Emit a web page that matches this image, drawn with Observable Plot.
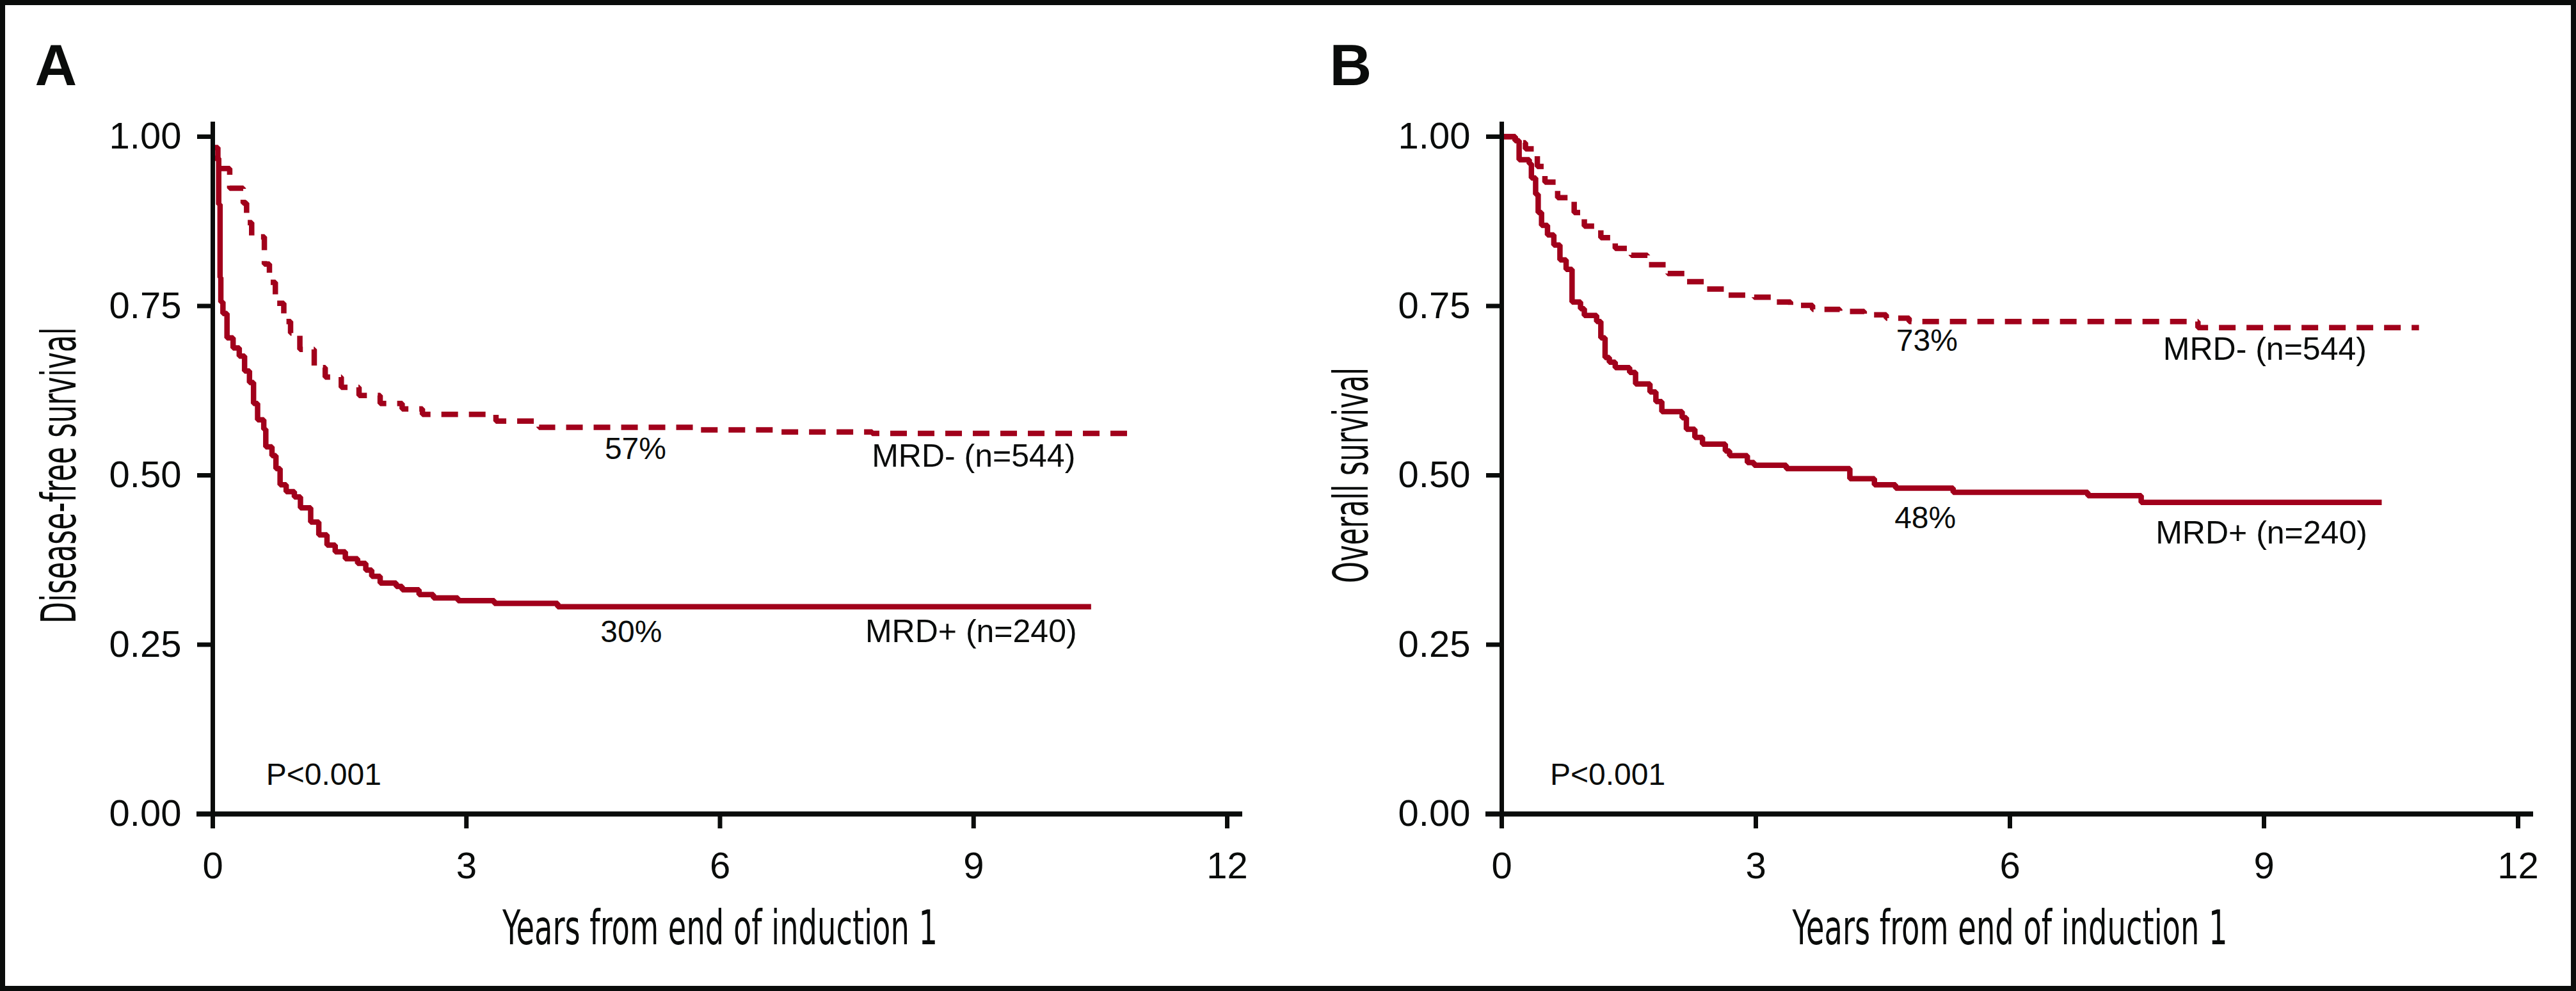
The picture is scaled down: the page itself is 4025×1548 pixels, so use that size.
<!DOCTYPE html>
<html>
<head>
<meta charset="utf-8">
<script src="https://cdn.jsdelivr.net/npm/d3@7"></script>
<script src="https://cdn.jsdelivr.net/npm/@observablehq/plot@0.6"></script>
<style>
  html, body { margin: 0; padding: 0; background: #fff; }
  #wrap { position: relative; width: 4025px; height: 1548px; overflow: hidden; background: #fff; }
  #wrap svg { position: absolute; top: 0; }
  #frame { position: absolute; left: 0; top: 0; width: 4025px; height: 1548px; box-sizing: border-box;
           border: 8px solid #0a0c0b; pointer-events: none; }
</style>
</head>
<body>
<div id="wrap"><div id="frame"></div></div>
<script>
// ---------------- data ----------------
const xTicks = [0, 3, 6, 9, 12];
const yTicks = [0, 0.25, 0.5, 0.75, 1];
const xTitle = "Years from end of induction 1";
const panelLetters = ["A", "B"];
const yTitles = ["Disease-free survival", "Overall survival"];
const groups = ["MRD- (n=544)", "MRD+ (n=240)"];

// Panel A: disease-free survival, MRD- (dashed)
const dfsNegTime = [0, 0.06, 0.20, 0.36, 0.40, 0.46, 0.61, 0.67, 0.74, 0.84, 0.87, 0.92, 1.03, 1.20, 1.33, 1.52, 1.73, 1.98, 2.24, 2.48, 3.35, 3.86, 5.77, 6.64, 7.80, 10.83];
const dfsNegSurv = [0.984, 0.953, 0.924, 0.902, 0.873, 0.852, 0.812, 0.785, 0.754, 0.733, 0.727, 0.710, 0.686, 0.659, 0.645, 0.630, 0.618, 0.606, 0.598, 0.590, 0.580, 0.571, 0.567, 0.564, 0.562, 0.562];
// Panel A: disease-free survival, MRD+ (solid)
const dfsPosTime = [0, 0.07, 0.086, 0.095, 0.12, 0.168, 0.24, 0.313, 0.376, 0.434, 0.482, 0.53, 0.603, 0.627, 0.70, 0.747, 0.796, 0.868, 0.965, 1.037, 1.158, 1.254, 1.351, 1.448, 1.568, 1.713, 1.81, 1.88, 1.98, 2.17, 2.24, 2.44, 2.61, 2.90, 3.33, 4.08, 10.39];
const dfsPosSurv = [0.968, 0.900, 0.792, 0.756, 0.739, 0.703, 0.688, 0.676, 0.654, 0.637, 0.606, 0.582, 0.568, 0.542, 0.529, 0.510, 0.486, 0.476, 0.468, 0.452, 0.431, 0.412, 0.397, 0.387, 0.377, 0.370, 0.360, 0.351, 0.341, 0.336, 0.331, 0.324, 0.319, 0.315, 0.311, 0.306, 0.306];

// Panel B: overall survival, MRD- (dashed)
const osNegTime = [0, 0.16, 0.28, 0.42, 0.51, 0.66, 0.855, 0.975, 1.17, 1.34, 1.53, 1.72, 1.96, 2.18, 2.40, 2.64, 2.98, 3.22, 3.41, 3.67, 3.99, 4.28, 4.54, 4.81, 8.22, 10.83];
const osNegSurv = [1.0, 0.991, 0.982, 0.956, 0.933, 0.910, 0.888, 0.868, 0.851, 0.835, 0.825, 0.811, 0.798, 0.786, 0.775, 0.766, 0.763, 0.756, 0.751, 0.745, 0.742, 0.737, 0.732, 0.727, 0.718, 0.718];
// Panel B: overall survival, MRD+ (solid)
const osPosTime = [0, 0.157, 0.205, 0.325, 0.35, 0.40, 0.43, 0.47, 0.54, 0.615, 0.687, 0.76, 0.83, 0.93, 0.975, 1.12, 1.17, 1.22, 1.27, 1.34, 1.51, 1.58, 1.75, 1.82, 1.89, 2.13, 2.18, 2.28, 2.37, 2.64, 2.69, 2.90, 2.98, 3.36, 4.11, 4.40, 4.65, 5.33, 6.92, 7.55, 10.39];
const osPosSurv = [1.0, 0.994, 0.966, 0.960, 0.939, 0.915, 0.888, 0.869, 0.855, 0.840, 0.818, 0.804, 0.756, 0.746, 0.736, 0.727, 0.703, 0.674, 0.667, 0.659, 0.652, 0.635, 0.623, 0.609, 0.594, 0.585, 0.568, 0.556, 0.546, 0.536, 0.529, 0.519, 0.515, 0.510, 0.495, 0.486, 0.481, 0.475, 0.470, 0.460, 0.460];

// Annotations (text, time, survival)
const dfsPctText = ["57%", "30%"];
const dfsPctTime = [5.0, 4.95];
const dfsPctSurv = [0.539, 0.268];
const dfsGroupTime = [9.0, 8.97];
const dfsGroupSurv = [0.528, 0.269];
const osPctText = ["73%", "48%"];
const osPctTime = [5.02, 5.0];
const osPctSurv = [0.698, 0.437];
const osGroupTime = [9.01, 8.97];
const osGroupSurv = [0.686, 0.414];
const pValueText = "P<0.001";
const pValueTime = [0.63, 0.57];
const pValueSurv = [0.058, 0.058];

// ---------------- rendering ----------------
const RED = "#a1001b";
const INK = "#0a0c0b";
const SANS = "'Liberation Sans', Arial, Helvetica, sans-serif";
const NARROW = "'Liberation Sans Narrow', 'DejaVu Sans Condensed', 'Liberation Sans', sans-serif";

function rows(times, values) { return times.map((t, i) => ({t, s: values[i]})); }
function labels(texts, times, values) { return texts.map((text, i) => ({text, t: times[i], s: values[i]})); }

function panel(o) {
  const stepStyle = {x: "t", y: "s", curve: "step-after", stroke: RED, strokeWidth: 8.5, strokeLinecap: "butt", strokeLinejoin: "miter"};
  return Plot.plot({
    width: o.width, height: 1548,
    marginLeft: o.marginLeft, marginRight: o.marginRight, marginTop: 213, marginBottom: 277,
    style: {fontFamily: SANS, background: "transparent", overflow: "visible", color: INK},
    x: {domain: [0, 12]},
    y: {domain: [0, 1]},
    marks: [
      Plot.line(o.neg, {...stepStyle, strokeDasharray: "26,17"}),
      Plot.line(o.pos, stepStyle),
      Plot.ruleX([0], {stroke: INK, strokeWidth: 7, insetTop: -23}),
      Plot.ruleY([0], {stroke: INK, strokeWidth: 8, insetLeft: -25, insetRight: -24}),
      Plot.axisX({ticks: xTicks, tickSize: 23, tickPadding: 36, strokeWidth: 7, fontSize: 58, label: null, tickFormat: d => String(d), fill: INK}),
      Plot.axisY({ticks: yTicks, tickSize: 24, tickPadding: 25, strokeWidth: 7, fontSize: 58, label: null, tickFormat: d3.format(".2f"), fill: INK}),
      Plot.text(o.pct, {x: "t", y: "s", text: "text", fontSize: 48, textAnchor: "middle", lineAnchor: "middle", fill: INK}),
      Plot.text(o.grp, {x: "t", y: "s", text: "text", fontSize: 50, textAnchor: "middle", lineAnchor: "middle", fill: INK}),
      Plot.text(o.p, {x: "t", y: "s", text: "text", fontSize: 48, textAnchor: "start", lineAnchor: "middle", fill: INK}),
      Plot.text([xTitle], {frameAnchor: "bottom", dy: 180, fontSize: 74, fontFamily: NARROW, lineAnchor: "middle", fill: INK}),
      Plot.text([o.yTitle], {frameAnchor: "left", rotate: -90, dx: o.titleDx, fontSize: 74, fontFamily: NARROW, lineAnchor: "middle", textAnchor: "middle", fill: INK}),
      Plot.text([o.letter], {frameAnchor: "top-left", dx: o.letterDx, dy: -110, fontSize: 91, fontWeight: "bold", textAnchor: "start", lineAnchor: "middle", fill: INK})
    ]
  });
}

function condense(svg, lengths) {
  svg.querySelectorAll("text").forEach(t => {
    const len = lengths[t.textContent];
    if (len) { t.setAttribute("textLength", len); t.setAttribute("lengthAdjust", "spacingAndGlyphs"); }
  });
}

const wrap = document.getElementById("wrap");
const frame = document.getElementById("frame");

const svgA = panel({
  width: 2012, marginLeft: 332, marginRight: 95,
  neg: rows(dfsNegTime, dfsNegSurv), pos: rows(dfsPosTime, dfsPosSurv),
  pct: labels(dfsPctText, dfsPctTime, dfsPctSurv),
  grp: labels(groups, dfsGroupTime, dfsGroupSurv),
  p: labels([pValueText], [pValueTime[0]], [pValueSurv[0]]),
  yTitle: yTitles[0], titleDx: -238, letter: panelLetters[0], letterDx: -278
});
svgA.style.left = "0px";
condense(svgA, {[xTitle]: 680, [yTitles[0]]: 463});

const svgB = panel({
  width: 2013, marginLeft: 334, marginRight: 91,
  neg: rows(osNegTime, osNegSurv), pos: rows(osPosTime, osPosSurv),
  pct: labels(osPctText, osPctTime, osPctSurv),
  grp: labels(groups, osGroupTime, osGroupSurv),
  p: labels([pValueText], [pValueTime[1]], [pValueSurv[1]]),
  yTitle: yTitles[1], titleDx: -233, letter: panelLetters[1], letterDx: -269
});
svgB.style.left = "2012px";
condense(svgB, {[xTitle]: 680, [yTitles[1]]: 337});

wrap.insertBefore(svgA, frame);
wrap.insertBefore(svgB, frame);
</script>
</body>
</html>
